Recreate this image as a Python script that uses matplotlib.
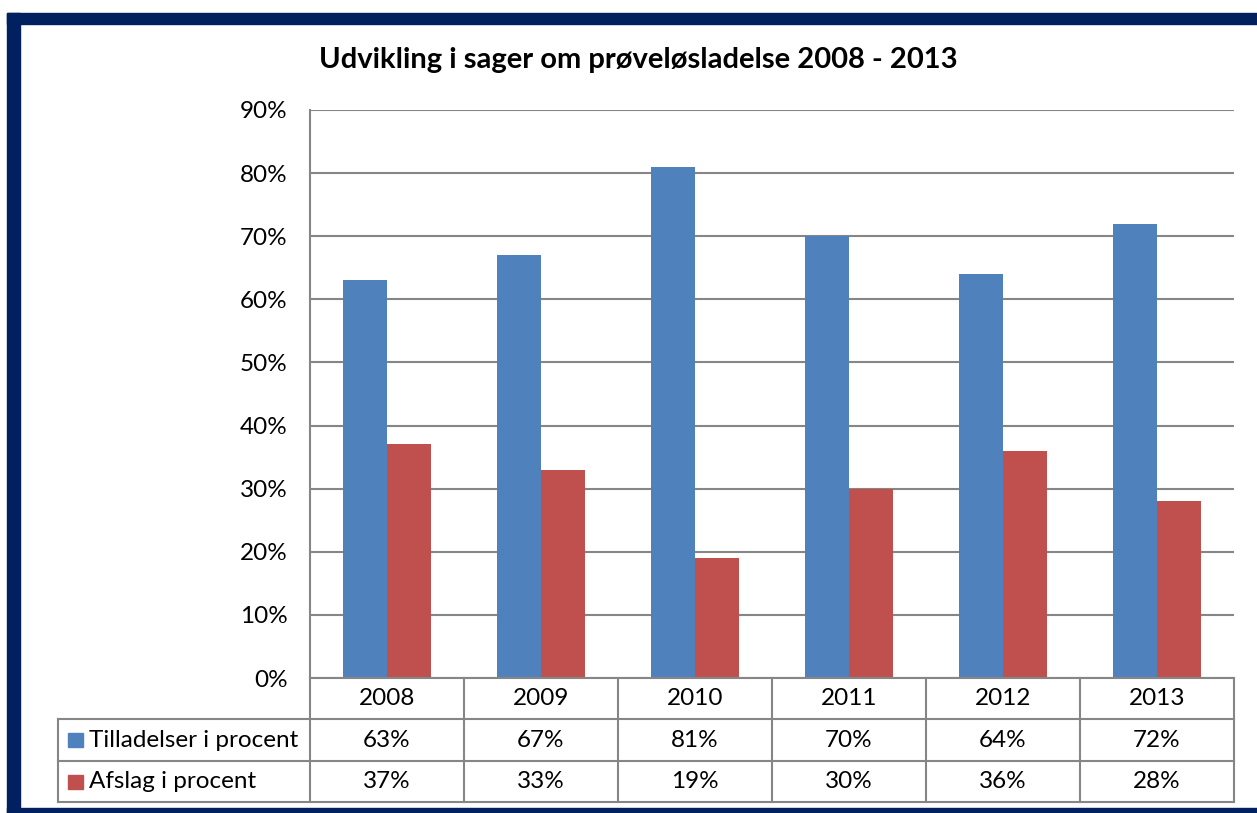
import numpy as np
import matplotlib.pyplot as plt
from matplotlib.lines import Line2D
from matplotlib.patches import Rectangle

plt.rcParams['font.family'] = ['Lato', 'DejaVu Sans']

years = ['2008', '2009', '2010', '2011', '2012', '2013']
tilladelser = [63, 67, 81, 70, 64, 72]
afslag = [37, 33, 19, 30, 36, 28]
series_names = ['Tilladelser i procent', 'Afslag i procent']
colors = ['#4F81BD', '#C0504D']
title = 'Udvikling i sager om prøveløsladelse 2008 - 2013'

W, H = 1257, 813
fig = plt.figure(figsize=(W / 100, H / 100), dpi=100)
fs = 17.5


def fx(px):
    return px / W


def fy(py):
    return 1 - py / H


# plot area in pixel coordinates
left, right, top, bottom = 310, 1234, 110, 678
ax = fig.add_axes([fx(left), fy(bottom), fx(right) - fx(left), fy(top) - fy(bottom)])

x = np.arange(len(years))
bw = 44 / 154
ax.bar(x - bw / 2, tilladelser, width=bw, color=colors[0], zorder=3)
ax.bar(x + bw / 2, afslag, width=bw, color=colors[1], zorder=3)
ax.set_xlim(-0.5, len(years) - 0.5)
ax.set_ylim(0, 90)
ax.set_yticks(range(0, 91, 10))
ax.set_yticklabels([f'{v}%' for v in range(0, 91, 10)], fontsize=fs)
ax.set_xticks([])
ax.tick_params(axis='y', length=0, pad=16)
ax.grid(axis='y', color='#868686', linewidth=1.5, zorder=0)
for s in ['top', 'right', 'bottom']:
    ax.spines[s].set_visible(False)
ax.spines['left'].set_color('#868686')
ax.spines['left'].set_linewidth(1.5)

# data table below the plot
grid_kw = dict(color='#868686', linewidth=1.5, transform=fig.transFigure)
rows = [678, 719, 761, 802]
tab_left = 58
col_w = (right - left) / len(years)
cols = [left + i * col_w for i in range(len(years) + 1)]

fig.add_artist(Line2D([fx(left), fx(right)], [fy(rows[0])] * 2, **grid_kw))
for r in rows[1:]:
    fig.add_artist(Line2D([fx(tab_left), fx(right)], [fy(r)] * 2, **grid_kw))
fig.add_artist(Line2D([fx(tab_left)] * 2, [fy(rows[1]), fy(rows[3])], **grid_kw))
for c in cols:
    fig.add_artist(Line2D([fx(c)] * 2, [fy(rows[0]), fy(rows[3])], **grid_kw))

for i, yr in enumerate(years):
    cx = fx((cols[i] + cols[i + 1]) / 2)
    fig.text(cx, fy((rows[0] + rows[1]) / 2), yr, ha='center', va='center', fontsize=fs)
    fig.text(cx, fy((rows[1] + rows[2]) / 2), f'{tilladelser[i]}%', ha='center', va='center', fontsize=fs)
    fig.text(cx, fy((rows[2] + rows[3]) / 2), f'{afslag[i]}%', ha='center', va='center', fontsize=fs)

for j, name in enumerate(series_names):
    cy = (rows[j + 1] + rows[j + 2]) / 2
    fig.add_artist(Rectangle((fx(68), fy(cy + 7)), fx(15), fy(cy - 7) - fy(cy + 7),
                             color=colors[j], transform=fig.transFigure))
    fig.text(fx(89), fy(cy), name, ha='left', va='center', fontsize=fs)

fig.text(fx(638), fy(60), title, ha='center', va='center', fontsize=21, fontweight='bold')

# dark blue frame
navy = '#002060'
fig.add_artist(Rectangle((fx(7), fy(24)), 1 - fx(7), fy(13) - fy(24), color=navy, transform=fig.transFigure))
fig.add_artist(Rectangle((fx(7), 0), fx(13), fy(13), color=navy, transform=fig.transFigure))
fig.add_artist(Rectangle((fx(7), 0), 1 - fx(7), fy(808), color=navy, transform=fig.transFigure))

fig.savefig('out.png', dpi=100)
